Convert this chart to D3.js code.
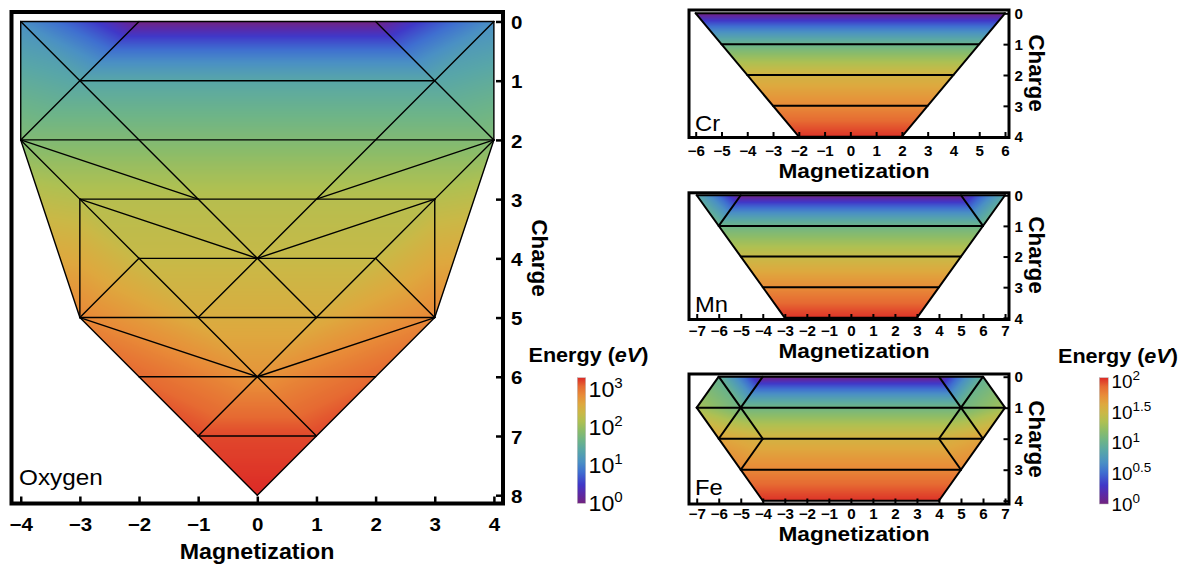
<!DOCTYPE html>
<html><head><meta charset="utf-8">
<script src="https://cdn.jsdelivr.net/npm/d3@7"></script>
<style>
body{margin:0;background:#fff}
svg{display:block}
</style>
</head><body>
<svg id="chart" width="1189" height="564"></svg>
<script>
// ---------------- DATA ----------------
// colour map (visual reading of the colour bar)
const cmapStops  = [0, 0.08, 0.15, 0.25, 0.33, 0.42, 0.5, 0.58, 0.65, 0.72, 0.79, 0.86, 0.93, 1];
const cmapColors = ["#72237f","#5a2aa8","#4038c8","#3f6fd0","#4a90c4","#58a6a8","#6db488","#8cbc68","#aec052","#cab846","#dea83e","#e88c38","#e66a32","#dc2a26"];

// Oxygen: vertices [magnetization, charge], energies (eV)
const oxVerts = [[-4,0],[-2,0],[2,0],[4,0],[-3,1],[3,1],[-4,2],[-2,2],[2,2],[4,2],
                 [-3,3],[-1,3],[1,3],[3,3],[-2,4],[0,4],[2,4],[-3,5],[-1,5],[1,5],[3,5],
                 [-2,6],[0,6],[2,6],[-1,7],[1,7],[0,8]];
const oxEnergy = [12,1,1,12,24.5,24.5,66,66,66,66,
                  166,166,166,166,224,224,224,760,355,355,760,
                  1190,600,1190,1600,1600,2044];
const oxTris = [[0,1,4],[0,4,6],[4,6,7],[6,10,11],[6,11,7],[6,17,10],[10,17,14],[10,14,15],[10,15,11],
                [17,14,18],[14,15,18],[17,22,21],[17,18,22],[21,22,24],
                [3,2,5],[3,5,9],[5,9,8],[9,13,12],[9,12,8],[9,20,13],[13,20,16],[13,16,15],[13,15,12],
                [20,16,19],[16,15,19],[20,22,23],[20,19,22],[23,22,25],
                [1,2,5],[1,5,4],[4,5,8],[4,8,7],[7,8,12],[7,12,11],[11,12,15],[15,18,19],[18,19,22],
                [22,24,25],[24,25,26]];
const oxEdges = [[0,3],[0,6],[3,9],[0,15],[3,15],[1,6],[2,9],[4,5],[6,9],[6,10],[9,13],[6,11],[9,12],
                 [6,17],[9,20],[10,13],[10,17],[13,20],[10,15],[13,15],[10,18],[13,19],[14,16],
                 [14,17],[16,20],[15,18],[15,19],[17,20],[17,22],[20,22],[18,22],[19,22],[21,23],
                 [22,24],[22,25],[24,25],[17,26],[20,26]];
const oxMagTicks = [-4,-3,-2,-1,0,1,2,3,4];
const oxChargeTicks = [0,1,2,3,4,5,6,7,8];
const oxCbExponents = [0,1,2,3];
const oxCbMax = 3.31;

// Cr
const crVerts = [[-6,0],[6,0],[-5,1],[5,1],[-4,2],[4,2],[-3,3],[3,3],[-2,4],[2,4]];
const crEnergy = [1,1,10,10,34,34,60,60,110,110];
const crTris = [[0,1,3],[0,3,2],[2,3,5],[2,5,4],[4,5,7],[4,7,6],[6,7,9],[6,9,8]];
const crEdges = [[0,1],[2,3],[4,5],[6,7],[8,9],[0,8],[1,9]];
const crMagTicks = [-6,-5,-4,-3,-2,-1,0,1,2,3,4,5,6];

// Mn
const mnVerts = [[-7,0],[-5,0],[5,0],[7,0],[-6,1],[6,1],[-5,2],[5,2],[-4,3],[4,3],[-3,4],[3,4]];
const mnEnergy = [7.4,1,1,7.4,10.7,10.7,29,29,59,59,110,110];
const mnTris = [[0,1,4],[3,2,5],[1,2,5],[1,5,4],[4,5,7],[4,7,6],[6,7,9],[6,9,8],[8,9,11],[8,11,10]];
const mnEdges = [[0,3],[1,4],[2,5],[4,5],[6,7],[8,9],[10,11],[0,10],[3,11]];

// Fe
const feVerts = [[-6,0],[-4,0],[4,0],[6,0],[-7,1],[-5,1],[5,1],[7,1],[-6,2],[-4,2],[4,2],[6,2],[-5,3],[5,3],[-4,4],[4,4]];
const feEnergy = [9.3,1,1,9.3,20,11.2,11.2,20,45,35,35,45,62,62,110,110];
const feTris = [[0,1,5],[0,5,4],[4,5,8],[5,9,8],[8,9,12],[3,2,6],[3,6,7],[7,6,11],[6,10,11],[11,10,13],
                [1,2,6],[1,6,5],[5,6,10],[5,10,9],[9,10,13],[9,13,12],[12,13,15],[12,15,14]];
const feEdges = [[0,3],[0,4],[3,7],[0,5],[1,5],[3,6],[2,6],[4,7],[5,8],[5,9],[6,11],[6,10],[8,11],
                 [9,12],[10,13],[12,13],[14,15],[4,14],[7,15]];
const mnFeMagTicks = [-7,-6,-5,-4,-3,-2,-1,0,1,2,3,4,5,6,7];
const smallChargeTicks = [0,1,2,3,4];
const tmCbExponents = [0,0.5,1,1.5,2];
const tmCbMax = 2.06;

// ---------------- LAYOUT ----------------
const W = 1189, H = 564, SX = 1.08;
const GAMMA = 0.3;   // interpolation of energy across each facet in E^GAMMA space
const FONT = '"Liberation Sans", Arial, Helvetica, sans-serif';

const panels = [
  {label:"Oxygen", verts:oxVerts, energy:oxEnergy, tris:oxTris, edges:oxEdges,
   magTicks:oxMagTicks, chargeTicks:oxChargeTicks, cbMax:oxCbMax,
   frame:{l:11.5, r:503, t:12, b:503.5}, xDom:[-4.156,4.154], yDom:[-0.16,8.14],
   frameW:4, edgeW:1.4, tickLen:7, tickW:2.5, tickFont:19, xTickBase:531, yTickDx:7.5, yTickDy:7.2,
   titleFont:21.5, magTitle:[257,559], chargeTitle:[540,258], chargeFont:22.5,
   lab:[19,485], labFont:22.5},
  {label:"Cr", verts:crVerts, energy:crEnergy, tris:crTris, edges:crEdges,
   magTicks:crMagTicks, chargeTicks:smallChargeTicks, cbMax:tmCbMax,
   frame:{l:689, r:1009, t:10, b:137.5}, xDom:[-6.26,6.155], yDom:[-0.107,4.026],
   frameW:3, edgeW:2, tickLen:5.5, tickW:2, tickFont:14, xTickBase:156, yTickDx:5, yTickDy:5.2,
   titleFont:21, magTitle:[854,177.5], chargeTitle:[1037,73], chargeFont:22.5,
   lab:[695,130.5], labFont:22},
  {label:"Mn", verts:mnVerts, energy:mnEnergy, tris:mnTris, edges:mnEdges,
   magTicks:mnFeMagTicks, chargeTicks:smallChargeTicks, cbMax:tmCbMax,
   frame:{l:689, r:1009, t:192.8, b:319.5}, xDom:[-7.35,7.18], yDom:[-0.08,4.055],
   frameW:3, edgeW:2, tickLen:5.5, tickW:2, tickFont:14, xTickBase:336.5, yTickDx:5, yTickDy:5.2,
   titleFont:21, magTitle:[854,357.5], chargeTitle:[1037,255], chargeFont:22.5,
   lab:[695,311.5], labFont:22},
  {label:"Fe", verts:feVerts, energy:feEnergy, tris:feTris, edges:feEdges,
   magTicks:mnFeMagTicks, chargeTicks:smallChargeTicks, cbMax:tmCbMax,
   frame:{l:689, r:1009, t:374, b:504}, xDom:[-7.35,7.18], yDom:[-0.087,4.106],
   frameW:3, edgeW:2, tickLen:5.5, tickW:2, tickFont:14, xTickBase:519.5, yTickDx:5, yTickDy:5.2,
   titleFont:21, magTitle:[854,540.5], chargeTitle:[1037,439], chargeFont:22.5,
   lab:[695,495], labFont:22}
];

const colorbars = [
  {id:"cbO", x:577.3, w:8.4, top:377.7, bottom:503.3, max:oxCbMax, exps:oxCbExponents,
   lx:588.5, fs:21.5, sup:14, supDy:9, labOff:8, title:[588.5,361.7]},
  {id:"cbT", x:1099.3, w:9, top:377.7, bottom:504, max:tmCbMax, exps:tmCbExponents,
   lx:1111.5, fs:17.5, sup:12.5, supDy:7.5, labOff:6.5, title:[1118,363.3]}
];

// ---------------- DRAW ----------------
const svg = d3.select("#chart").attr("font-family", FONT);
const cmap = d3.scaleLinear().domain(cmapStops).range(cmapColors).interpolate(d3.interpolateRgb).clamp(true);
const LUTN = 1024;
const LUT = d3.range(LUTN).map(i => { const c = d3.rgb(cmap(i/(LUTN-1))); return [c.r,c.g,c.b]; });

const gImg = svg.append("g");
const gTop = svg.append("g");

const canvas = document.createElement("canvas");
canvas.width = W; canvas.height = H;
const ctx = canvas.getContext("2d");
const img = ctx.createImageData(W, H);
const buf = img.data;

function raster(P, E, cbMax) {
  const G = E.map(e => Math.pow(e, GAMMA));
  const minX = Math.max(0, Math.floor(Math.min(P[0][0],P[1][0],P[2][0])));
  const maxX = Math.min(W-1, Math.ceil(Math.max(P[0][0],P[1][0],P[2][0])));
  const minY = Math.max(0, Math.floor(Math.min(P[0][1],P[1][1],P[2][1])));
  const maxY = Math.min(H-1, Math.ceil(Math.max(P[0][1],P[1][1],P[2][1])));
  const den = (P[1][1]-P[2][1])*(P[0][0]-P[2][0]) + (P[2][0]-P[1][0])*(P[0][1]-P[2][1]);
  if (Math.abs(den) < 1e-9) return;
  const eps = 1e-6;
  for (let py = minY; py <= maxY; py++) {
    for (let px = minX; px <= maxX; px++) {
      const sx = px + 0.5, sy = py + 0.5;
      const l0 = ((P[1][1]-P[2][1])*(sx-P[2][0]) + (P[2][0]-P[1][0])*(sy-P[2][1])) / den;
      const l1 = ((P[2][1]-P[0][1])*(sx-P[2][0]) + (P[0][0]-P[2][0])*(sy-P[2][1])) / den;
      const l2 = 1 - l0 - l1;
      if (l0 < -eps || l1 < -eps || l2 < -eps) continue;
      const gv = l0*G[0] + l1*G[1] + l2*G[2];
      const e = Math.pow(Math.max(gv, 1e-9), 1/GAMMA);
      let t = Math.log10(Math.max(e,1e-9)) / cbMax;
      t = Math.max(0, Math.min(1, t));
      const c = LUT[Math.round(t*(LUTN-1))];
      const k = (py*W + px)*4;
      buf[k] = c[0]; buf[k+1] = c[1]; buf[k+2] = c[2]; buf[k+3] = 255;
    }
  }
}

function stretchText(sel) { sel.attr("transform", `scale(${SX},1)`); }

panels.forEach(p => {
  const f = p.frame;
  const x = d3.scaleLinear().domain(p.xDom).range([f.l, f.r]);
  const y = d3.scaleLinear().domain(p.yDom).range([f.t, f.b]);

  // coloured facets
  p.tris.forEach(tri => {
    const P = tri.map(i => [x(p.verts[i][0]), y(p.verts[i][1])]);
    const E = tri.map(i => p.energy[i]);
    raster(P, E, p.cbMax);
  });

  const g = gTop.append("g");
  // facet edges
  g.append("g").selectAll("line").data(p.edges).join("line")
    .attr("x1", d => x(p.verts[d[0]][0])).attr("y1", d => y(p.verts[d[0]][1]))
    .attr("x2", d => x(p.verts[d[1]][0])).attr("y2", d => y(p.verts[d[1]][1]))
    .attr("stroke", "#000").attr("stroke-width", p.edgeW).attr("stroke-linecap","round");

  // frame
  g.append("rect").attr("x", f.l).attr("y", f.t).attr("width", f.r-f.l).attr("height", f.b-f.t)
    .attr("fill","none").attr("stroke","#000").attr("stroke-width", p.frameW);

  // bottom axis
  const ax = g.append("g").attr("transform", `translate(0,${f.b})`)
    .call(d3.axisBottom(x).tickValues(p.magTicks).tickSize(-p.tickLen).tickFormat(d3.format("d")));
  ax.attr("font-family", FONT).attr("font-size", p.tickFont).attr("font-weight","bold");
  ax.select(".domain").remove();
  ax.selectAll(".tick line").attr("stroke","#000").attr("stroke-width", p.tickW);
  ax.selectAll(".tick text").attr("fill","#000").attr("y", p.xTickBase - f.b).attr("dy", null).call(stretchText);

  // right axis
  const ay = g.append("g").attr("transform", `translate(${f.r},0)`)
    .call(d3.axisRight(y).tickValues(p.chargeTicks).tickSize(-p.tickLen).tickFormat(d3.format("d")));
  ay.attr("font-family", FONT).attr("font-size", p.tickFont).attr("font-weight","bold").attr("text-anchor","start");
  ay.select(".domain").remove();
  ay.selectAll(".tick line").attr("stroke","#000").attr("stroke-width", p.tickW);
  ay.selectAll(".tick text").attr("fill","#000").attr("x", p.yTickDx).attr("y", p.yTickDy).attr("dy", null).call(stretchText);

  // titles
  g.append("text").attr("transform", `translate(${p.magTitle[0]},${p.magTitle[1]}) scale(${SX},1)`)
    .attr("text-anchor","middle").attr("font-weight","bold").attr("font-size", p.titleFont).text("Magnetization");
  g.append("text").attr("transform", `translate(${p.chargeTitle[0]},${p.chargeTitle[1]}) rotate(90)`)
    .attr("text-anchor","middle").attr("dy","0.35em").attr("font-weight","bold").attr("font-size", p.chargeFont).text("Charge");
  g.append("text").attr("transform", `translate(${p.lab[0]},${p.lab[1]}) scale(${SX},1)`)
    .attr("font-size", p.labFont).text(p.label);
});

ctx.putImageData(img, 0, 0);
gImg.append("image").attr("x",0).attr("y",0).attr("width",W).attr("height",H)
  .attr("href", canvas.toDataURL("image/png"));

// colour bars
const defs = svg.append("defs");
colorbars.forEach(cb => {
  const grad = defs.append("linearGradient").attr("id", cb.id)
    .attr("x1",0).attr("y1",1).attr("x2",0).attr("y2",0);
  grad.selectAll("stop").data(cmapStops).join("stop")
    .attr("offset", d => d).attr("stop-color", d => cmap(d));
  const cy = d3.scaleLinear().domain([0, cb.max]).range([cb.bottom, cb.top]);
  const g = gTop.append("g");
  g.append("rect").attr("x", cb.x).attr("y", cb.top).attr("width", cb.w).attr("height", cb.bottom-cb.top)
    .attr("fill", `url(#${cb.id})`).attr("stroke","#bbb").attr("stroke-width",0.5);
  cb.exps.forEach(e => {
    const t = g.append("text").attr("transform", `translate(${cb.lx},${cy(e)+cb.labOff}) scale(${SX},1)`)
      .attr("font-size", cb.fs);
    t.append("tspan").text("10");
    t.append("tspan").attr("font-size", cb.sup).attr("dy", -cb.supDy).text(String(e));
  });
  const tt = g.append("text").attr("transform", `translate(${cb.title[0]},${cb.title[1]}) scale(${SX},1)`)
    .attr("text-anchor","middle").attr("font-weight","bold").attr("font-size",20);
  tt.append("tspan").text("Energy (");
  tt.append("tspan").attr("font-style","italic").text("eV");
  tt.append("tspan").text(")");
});
</script>
</body></html>
